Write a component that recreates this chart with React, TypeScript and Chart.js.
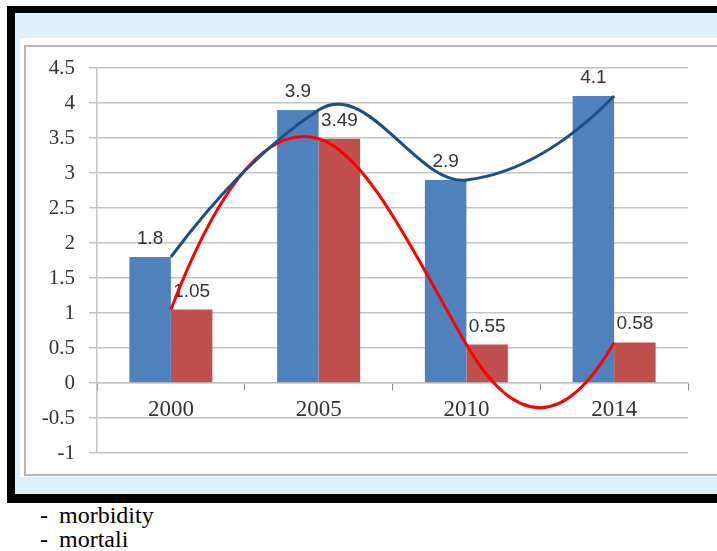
import React, { useEffect, useRef } from "react";
import { Chart, registerables } from "chart.js";

Chart.register(...registerables);

// ---- data ----
const categories = ["2000", "2005", "2010", "2014"];
const morbidity = [1.8, 3.9, 2.9, 4.1];
const mortality = [1.05, 3.49, 0.55, 0.58];
const seriesNames = ["morbidity", "mortali"];
const yMin = -1;
const yMax = 4.5;
const yStep = 0.5;

// ---- styles ----
const BLUE_BAR = "#4F81BD";
const RED_BAR = "#C0504D";
const BLUE_LINE = "#1F4E86";
const RED_LINE = "#FF0000";
const GRID = "#C4C4C4";
const TEXT = "#333333";

// Smooth curve through the data points (Hermite spline with strong tangents)
const SMOOTH_K = 2.5;
const smoothPlugin = {
  id: "handSmooth",
  beforeDatasetDraw(chart: any, args: any) {
    const meta = args.meta;
    if (meta.type !== "line") return;
    const pts = meta.data;
    const n = pts.length;
    if (n < 2) return;
    const m: number[] = new Array(n).fill(0);
    for (let i = 1; i < n - 1; i++) {
      m[i] = (SMOOTH_K * (pts[i + 1].y - pts[i - 1].y)) / (pts[i + 1].x - pts[i - 1].x);
    }
    const d0 = (pts[1].y - pts[0].y) / (pts[1].x - pts[0].x);
    const dn = (pts[n - 1].y - pts[n - 2].y) / (pts[n - 1].x - pts[n - 2].x);
    m[0] = n > 2 ? 2 * d0 - m[1] : d0;
    m[n - 1] = n > 2 ? 2 * dn - m[n - 2] : dn;
    for (let i = 0; i < n; i++) {
      const p = pts[i];
      const hPrev = i > 0 ? p.x - pts[i - 1].x : 0;
      const hNext = i < n - 1 ? pts[i + 1].x - p.x : 0;
      p.cp1x = p.x - hPrev / 3;
      p.cp1y = p.y - (m[i] * hPrev) / 3;
      p.cp2x = p.x + hNext / 3;
      p.cp2y = p.y + (m[i] * hNext) / 3;
    }
    meta.dataset._pointsUpdated = true;
    meta.dataset._path = undefined;
  },
};

const labelPlugin = {
  id: "barValueLabels",
  afterDatasetDraw(chart: any, args: any) {
    const meta = args.meta;
    if (meta.type !== "bar") return;
    const ds = chart.data.datasets[args.index];
    const ctx = chart.ctx;
    ctx.save();
    ctx.font = "19px 'Liberation Sans', Arial, sans-serif";
    ctx.fillStyle = TEXT;
    ctx.textAlign = "center";
    ctx.textBaseline = "alphabetic";
    meta.data.forEach((el: any, i: number) => {
      ctx.fillText(String(ds.data[i]), el.x, el.y - 13);
    });
    ctx.restore();
  },
};

function ChartBox() {
  const ref = useRef<HTMLCanvasElement | null>(null);
  useEffect(() => {
    if (!ref.current) return;
    const chart = new Chart(ref.current, {
      type: "bar",
      data: {
        labels: categories,
        datasets: [
          {
            type: "bar",
            label: seriesNames[0],
            data: morbidity,
            backgroundColor: BLUE_BAR,
            borderWidth: 0,
            categoryPercentage: 0.5617,
            barPercentage: 1,
            order: 2,
          },
          {
            type: "bar",
            label: seriesNames[1],
            data: mortality,
            backgroundColor: RED_BAR,
            borderWidth: 0,
            categoryPercentage: 0.5617,
            barPercentage: 1,
            order: 2,
          },
          {
            type: "line",
            label: seriesNames[1],
            data: mortality,
            borderColor: RED_LINE,
            borderWidth: 3,
            pointRadius: 0,
            fill: false,
            tension: 0.4,
            order: 1,
          } as any,
          {
            type: "line",
            label: seriesNames[0],
            data: morbidity,
            borderColor: BLUE_LINE,
            borderWidth: 3,
            pointRadius: 0,
            fill: false,
            tension: 0.4,
            order: 0,
          } as any,
        ],
      },
      options: {
        animation: false,
        responsive: false,
        events: [],
        layout: { padding: { top: 21, right: 28, bottom: 21, left: 0 } },
        plugins: {
          legend: { display: false },
          tooltip: { enabled: false },
          title: { display: false },
        },
        scales: {
          x: {
            position: { y: 0 } as any,
            offset: true,
            grid: {
              display: true,
              drawOnChartArea: false,
              drawTicks: true,
              tickLength: 7,
              color: "#8C8C8C",
              offset: true,
            },
            border: { display: true, color: GRID, width: 1.5 },
            ticks: {
              color: TEXT,
              padding: 6,
              font: { family: "'Liberation Serif', serif", size: 23 },
            },
          },
          y: {
            min: yMin,
            max: yMax,
            afterFit: (scale: any) => {
              scale.width = 71;
              scale.paddingTop = 0;
              scale.paddingBottom = 0;
            },
            grid: {
              color: GRID,
              lineWidth: 1.5,
              tickLength: 8,
              drawTicks: true,
            },
            border: { display: true, color: GRID, width: 1.5 },
            ticks: {
              stepSize: yStep,
              color: TEXT,
              padding: 14,
              font: { family: "'Liberation Serif', serif", size: 21 },
              callback: (v: any) => String(Math.round(Number(v) * 100) / 100),
            },
          },
        },
      },
      plugins: [smoothPlugin, labelPlugin],
    });
    return () => chart.destroy();
  }, []);
  return (
    <canvas
      ref={ref}
      width={690}
      height={427}
      style={{ position: "absolute", left: 26, top: 47, width: 690, height: 427 }}
    />
  );
}

export default function App() {
  return (
    <div
      style={{
        position: "fixed",
        left: 0,
        top: 0,
        width: 717,
        height: 551,
        overflow: "hidden",
        background: "#fff",
      }}
    >
      <div style={{ position: "absolute", left: 7, top: 6, width: 730, height: 497, background: "#000" }} />
      <div style={{ position: "absolute", left: 15, top: 13, width: 720, height: 481, background: "#DEF0FB" }} />
      <div style={{ position: "absolute", left: 20, top: 38, width: 720, height: 439, background: "#fff" }} />
      <div
        style={{
          position: "absolute",
          left: 24,
          top: 45,
          width: 720,
          height: 427,
          border: "2px solid #B8B8B8",
          background: "#fff",
        }}
      />
      <ChartBox />
      {seriesNames.map((name, i) => (
        <div
          key={name}
          style={{
            position: "absolute",
            left: 40,
            top: 503 + i * 24,
            fontFamily: "'Liberation Serif', 'Times New Roman', serif",
            fontSize: 24,
            lineHeight: "24px",
            color: "#000",
            whiteSpace: "pre",
          }}
        >
          <span>-</span>
          <span style={{ position: "absolute", left: 19 }}>{name}</span>
        </div>
      ))}
    </div>
  );
}
